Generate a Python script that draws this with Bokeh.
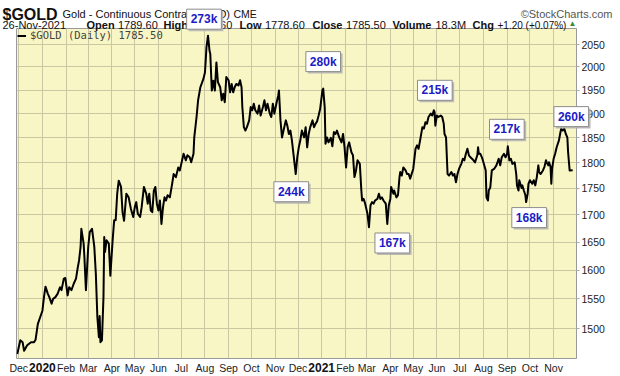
import pandas as pd
from bokeh.plotting import figure
from bokeh.models import (Range1d, FixedTicker, Legend, LegendItem,
                          PrintfTickFormatter, ColumnDataSource)
from bokeh.core.properties import value
from bokeh.embed import file_html
from bokeh.resources import INLINE

# ---------------- data ----------------
dates = [
    "2019-11-29", "2019-12-03", "2019-12-06", "2019-12-08", "2019-12-12", "2019-12-17", "2019-12-21",
    "2019-12-23", "2019-12-26", "2019-12-29", "2020-01-01", "2020-01-03", "2020-01-05", "2020-01-08",
    "2020-01-10", "2020-01-13", "2020-01-15", "2020-01-18", "2020-01-21", "2020-01-24", "2020-01-26",
    "2020-01-29", "2020-01-31", "2020-02-03", "2020-02-05", "2020-02-08", "2020-02-11", "2020-02-14",
    "2020-02-16", "2020-02-18", "2020-02-20", "2020-02-21", "2020-02-24", "2020-02-25", "2020-02-27",
    "2020-03-01", "2020-03-03", "2020-03-06", "2020-03-09", "2020-03-11", "2020-03-13", "2020-03-15",
    "2020-03-16", "2020-03-17", "2020-03-19", "2020-03-21", "2020-03-22", "2020-03-23", "2020-03-25",
    "2020-03-28", "2020-03-30", "2020-04-02", "2020-04-04", "2020-04-06", "2020-04-08", "2020-04-10",
    "2020-04-13", "2020-04-15", "2020-04-17", "2020-04-20", "2020-04-23", "2020-04-26", "2020-04-29",
    "2020-05-01", "2020-05-03", "2020-05-05", "2020-05-08", "2020-05-10", "2020-05-13", "2020-05-16",
    "2020-05-18", "2020-05-20", "2020-05-22", "2020-05-24", "2020-05-26", "2020-05-28", "2020-05-30",
    "2020-06-01", "2020-06-03", "2020-06-05", "2020-06-07", "2020-06-09", "2020-06-11", "2020-06-13",
    "2020-06-16", "2020-06-19", "2020-06-21", "2020-06-24", "2020-06-27", "2020-06-29", "2020-07-01",
    "2020-07-04", "2020-07-07", "2020-07-09", "2020-07-12", "2020-07-14", "2020-07-17", "2020-07-18",
    "2020-07-21", "2020-07-23", "2020-07-26", "2020-07-30", "2020-08-01", "2020-08-02", "2020-08-03",
    "2020-08-05", "2020-08-07", "2020-08-08", "2020-08-10", "2020-08-12", "2020-08-14", "2020-08-16",
    "2020-08-18", "2020-08-21", "2020-08-23", "2020-08-25", "2020-08-27", "2020-08-29", "2020-09-01",
    "2020-09-03", "2020-09-05", "2020-09-07", "2020-09-09", "2020-09-11", "2020-09-14", "2020-09-16",
    "2020-09-18", "2020-09-19", "2020-09-21", "2020-09-23", "2020-09-25", "2020-09-28", "2020-09-30",
    "2020-10-02", "2020-10-04", "2020-10-06", "2020-10-09", "2020-10-11", "2020-10-13", "2020-10-16",
    "2020-10-18", "2020-10-20", "2020-10-22", "2020-10-25", "2020-10-27", "2020-10-29", "2020-10-31",
    "2020-11-03", "2020-11-05", "2020-11-06", "2020-11-08", "2020-11-10", "2020-11-12", "2020-11-15",
    "2020-11-17", "2020-11-19", "2020-11-21", "2020-11-23", "2020-11-25", "2020-11-28", "2020-11-30",
    "2020-12-02", "2020-12-04", "2020-12-06", "2020-12-09", "2020-12-11", "2020-12-13", "2020-12-15",
    "2020-12-17", "2020-12-20", "2020-12-22", "2020-12-24", "2020-12-26", "2020-12-28", "2020-12-30",
    "2021-01-02", "2021-01-03", "2021-01-05", "2021-01-06", "2021-01-08", "2021-01-10", "2021-01-13",
    "2021-01-15", "2021-01-17", "2021-01-19", "2021-01-21", "2021-01-24", "2021-01-27", "2021-01-29",
    "2021-01-31", "2021-02-02", "2021-02-04", "2021-02-06", "2021-02-09", "2021-02-11", "2021-02-13",
    "2021-02-15", "2021-02-17", "2021-02-20", "2021-02-22", "2021-02-23", "2021-02-25", "2021-02-27",
    "2021-03-02", "2021-03-04", "2021-03-06", "2021-03-08", "2021-03-10", "2021-03-12", "2021-03-15",
    "2021-03-17", "2021-03-19", "2021-03-21", "2021-03-23", "2021-03-26", "2021-03-28", "2021-03-30",
    "2021-04-01", "2021-04-02", "2021-04-05", "2021-04-06", "2021-04-09", "2021-04-11", "2021-04-13",
    "2021-04-14", "2021-04-16", "2021-04-18", "2021-04-21", "2021-04-23", "2021-04-25", "2021-04-27",
    "2021-05-01", "2021-05-04", "2021-05-06", "2021-05-08", "2021-05-10", "2021-05-13", "2021-05-15",
    "2021-05-17", "2021-05-19", "2021-05-21", "2021-05-24", "2021-05-26", "2021-05-28", "2021-05-29",
    "2021-05-30", "2021-06-01", "2021-06-03", "2021-06-06", "2021-06-08", "2021-06-10", "2021-06-11",
    "2021-06-13", "2021-06-15", "2021-06-17", "2021-06-20", "2021-06-22", "2021-06-24", "2021-06-26",
    "2021-06-28", "2021-06-30", "2021-07-03", "2021-07-05", "2021-07-07", "2021-07-09", "2021-07-11",
    "2021-07-13", "2021-07-15", "2021-07-17", "2021-07-19", "2021-07-21", "2021-07-24", "2021-07-25",
    "2021-07-26", "2021-07-28", "2021-07-30", "2021-08-01", "2021-08-04", "2021-08-05", "2021-08-07",
    "2021-08-08", "2021-08-10", "2021-08-12", "2021-08-15", "2021-08-18", "2021-08-21", "2021-08-23",
    "2021-08-25", "2021-08-28", "2021-08-30", "2021-09-01", "2021-09-02", "2021-09-04", "2021-09-06",
    "2021-09-08", "2021-09-11", "2021-09-13", "2021-09-14", "2021-09-16", "2021-09-17", "2021-09-20",
    "2021-09-21", "2021-09-23", "2021-09-25", "2021-09-26", "2021-09-28", "2021-09-29", "2021-10-01",
    "2021-10-04", "2021-10-06", "2021-10-08", "2021-10-10", "2021-10-12", "2021-10-13", "2021-10-15",
    "2021-10-18", "2021-10-20", "2021-10-22", "2021-10-23", "2021-10-25", "2021-10-26", "2021-10-28",
    "2021-10-29", "2021-10-30", "2021-11-01", "2021-11-03", "2021-11-05", "2021-11-08", "2021-11-10",
    "2021-11-11", "2021-11-13", "2021-11-15", "2021-11-17", "2021-11-19", "2021-11-20", "2021-11-22",
    "2021-11-26",
]
closes = [
    1459, 1481, 1478, 1464, 1473, 1478, 1478,
    1482, 1508, 1519, 1530, 1553, 1571, 1559,
    1553, 1542, 1550, 1553, 1559, 1570, 1565,
    1585, 1586, 1556, 1570, 1565, 1576, 1585,
    1602, 1617, 1641, 1674, 1647, 1623, 1565,
    1641, 1668, 1674, 1641, 1593, 1519, 1486,
    1521, 1478, 1481, 1553, 1659, 1632, 1653,
    1647, 1590, 1653, 1690, 1690, 1740, 1765,
    1753, 1705, 1689, 1740, 1733, 1711, 1696,
    1714, 1724, 1702, 1696, 1714, 1753, 1740,
    1721, 1740, 1708, 1705, 1746, 1753, 1721,
    1708, 1727, 1683, 1714, 1733, 1727, 1737,
    1733, 1759, 1778, 1772, 1791, 1785, 1798,
    1818, 1805, 1815, 1811, 1801, 1818, 1851,
    1893, 1928, 1956, 1974, 1988, 2014, 2044,
    2070, 2036, 2029, 1949, 1970, 1949, 2010,
    1967, 1956, 1928, 1942, 1924, 1978, 1971,
    1945, 1963, 1945, 1956, 1963, 1960, 1971,
    1956, 1914, 1872, 1865, 1872, 1886, 1914,
    1907, 1921, 1907, 1900, 1917, 1896, 1914,
    1928, 1907, 1921, 1900, 1893, 1921, 1900,
    1924, 1938, 1949, 1886, 1851, 1865, 1886,
    1875, 1858, 1865, 1845, 1818, 1778, 1811,
    1831, 1845, 1865, 1851, 1872, 1831, 1858,
    1872, 1886, 1872, 1879, 1884, 1896, 1910,
    1950, 1953, 1913, 1838, 1851, 1841, 1850,
    1833, 1862, 1858, 1865, 1851, 1841, 1858,
    1831, 1791, 1831, 1841, 1821, 1815, 1772,
    1785, 1805, 1798, 1746, 1727, 1730, 1721,
    1702, 1677, 1718, 1724, 1721, 1727, 1730,
    1740, 1730, 1733, 1727, 1721, 1683, 1718,
    1730, 1753, 1740, 1746, 1733, 1737, 1772,
    1782, 1775, 1791, 1785, 1778, 1778, 1769,
    1788, 1828, 1835, 1828, 1845, 1872, 1869,
    1882, 1879, 1893, 1900, 1896, 1907, 1903,
    1875, 1896, 1893, 1896, 1893, 1879, 1858,
    1851, 1778, 1775, 1782, 1775, 1778, 1762,
    1778, 1788, 1798, 1808, 1805, 1818, 1828,
    1815, 1811, 1808, 1805, 1801, 1815, 1831,
    1818, 1818, 1811, 1801, 1785, 1733, 1727,
    1746, 1752, 1785, 1788, 1795, 1808, 1795,
    1811, 1818, 1811, 1818, 1833, 1805, 1808,
    1798, 1801, 1778, 1756, 1746, 1766, 1751,
    1756, 1746, 1737, 1724, 1740, 1759, 1766,
    1759, 1766, 1756, 1772, 1795, 1782, 1778,
    1785, 1792, 1805, 1801, 1795, 1801, 1792,
    1759, 1788, 1808, 1818, 1831, 1845, 1862,
    1869, 1865, 1869, 1858, 1851, 1821, 1785,
    1785.5,
]

price_ticks = [1500, 1550, 1600, 1650, 1700, 1750, 1800, 1850, 1900, 1950, 2000, 2050]
month_ticks = ["2019-12-01", "2020-01-01", "2020-02-01", "2020-03-01", "2020-04-01", "2020-05-01",
               "2020-06-01", "2020-07-01", "2020-08-01", "2020-09-01", "2020-10-01", "2020-11-01",
               "2020-12-01", "2021-01-01", "2021-02-01", "2021-03-01", "2021-04-01", "2021-05-01",
               "2021-06-01", "2021-07-01", "2021-08-01", "2021-09-01", "2021-10-01", "2021-11-01"]
month_labels = ["Dec", "2020", "Feb", "Mar", "Apr", "May", "Jun", "Jul", "Aug", "Sep", "Oct", "Nov",
                "Dec", "2021", "Feb", "Mar", "Apr", "May", "Jun", "Jul", "Aug", "Sep", "Oct", "Nov"]

# volume call-outs: text, date of the swing point they belong to
vol_labels = ["273k", "280k", "244k", "215k", "167k", "217k", "168k", "260k"]
vol_dates = ["2020-08-05", "2021-01-03", "2020-11-28", "2021-05-28", "2021-03-28",
             "2021-09-02", "2021-09-26", "2021-11-11"]
# pixel offsets of each call-out box from its swing point (layout only; + = right / up)
vol_dx = [-4, 0, -4.5, 1, 5, -1, 3, 10]
vol_dy = [16.5, 27, -17.7, 20, -19, 17, -15.5, 12]

header_vals = {"date": "26-Nov-2021", "open": "1789.60", "high": "1815.60", "low": "1778.60",
               "close": "1785.50", "volume": "18.3M", "chg": "+1.20 (+0.07%)"}


def ms(d):
    return pd.Timestamp(d).value // 10**6


# ---------------- figure ----------------
FL, FT = 16, 28          # frame left / top in canvas pixels
X0, X1 = ms("2019-11-28"), ms("2021-12-01")
Y0, Y1 = 1451.7, 2086.4

p = figure(width=620, height=376, output_backend="svg", toolbar_location=None,
           x_axis_type="datetime", y_axis_type="log", y_axis_location="right",
           x_range=Range1d(X0, X1), y_range=Range1d(Y0, Y1),
           min_border_left=FL, min_border_right=44, min_border_top=FT, min_border_bottom=18)

p.background_fill_color = "#f8f6c4"
p.border_fill_color = "white"
p.outline_line_color = "#9a9a9a"
p.outline_line_width = 1

xt = [ms(d) for d in month_ticks]
p.xaxis.ticker = FixedTicker(ticks=xt)
p.xaxis.major_label_overrides = {t: ("" if lab.isdigit() else lab) for t, lab in zip(xt, month_labels)}
p.xaxis.axis_line_color = None
p.xaxis.major_tick_out = 0
p.xaxis.major_tick_in = 0
p.xaxis.minor_tick_line_color = None
p.xaxis.major_label_standoff = 3
p.xaxis.major_label_text_font = "Liberation Sans"
p.xaxis.major_label_text_font_size = "10.5px"
p.xaxis.major_label_text_color = "#222222"

p.yaxis.ticker = FixedTicker(ticks=price_ticks)
p.yaxis.formatter = PrintfTickFormatter(format="%d")
p.yaxis.axis_line_color = None
p.yaxis.major_tick_out = 3
p.yaxis.major_tick_in = 0
p.yaxis.major_tick_line_color = "#aaaaaa"
p.yaxis.minor_tick_line_color = None
p.yaxis.major_label_standoff = 2
p.yaxis.major_label_text_font = "Liberation Sans"
p.yaxis.major_label_text_font_size = "10.5px"
p.yaxis.major_label_text_color = "#222222"

p.xgrid.ticker = FixedTicker(ticks=xt)
p.ygrid.ticker = FixedTicker(ticks=price_ticks)
p.xgrid.grid_line_color = "#c9c8a2"
p.ygrid.grid_line_color = "#c9c8a2"

src = ColumnDataSource(dict(x=pd.to_datetime(dates), y=closes))
r = p.line("x", "y", source=src, line_color="black", line_width=2, line_join="round")

legend = Legend(items=[LegendItem(label="$GOLD (Daily) 1785.50", renderers=[r])],
                location="top_left", margin=0, padding=1, spacing=0,
                glyph_width=9, glyph_height=11, label_standoff=4, label_height=11,
                label_text_font="DejaVu Sans Mono", label_text_font_size="10.5px",
                background_fill_alpha=0, border_line_alpha=0)
p.add_layout(legend)

# ---------------- texts outside the frame (overlay-level text glyphs) ----------------
hdr = dict(x=[], y=[], text=[], xo=[], yo=[], size=[], style=[], color=[], font=[], align=[])


def hlabel(text, cx, cy, size, bold=False, color="#111111", align="left", font="Liberation Sans"):
    # anchored at the frame's top-left corner, offset in canvas pixels
    hdr["x"].append(X0)
    hdr["y"].append(Y1)
    hdr["xo"].append(cx - FL)
    hdr["yo"].append(cy - FT)
    hdr["text"].append(text)
    hdr["size"].append(f"{size}px")
    hdr["style"].append("bold" if bold else "normal")
    hdr["color"].append(color)
    hdr["font"].append(font)
    hdr["align"].append(align)


L1, L2 = 13, 24.5   # baselines of the two header lines
hlabel("$GOLD", 2, L1 + 0.5, 16, bold=True)
hlabel("Gold - Continuous Contract (EOD)", 62, L1, 11)
hlabel("CME", 233, L1, 10.5)
hlabel("\u00a9StockCharts.com", 612, L1, 11, color="#555555", align="right")

hlabel(header_vals["date"], 2, L2, 11)
hlabel("Open", 86, L2, 11, bold=True)
hlabel(header_vals["open"], 117.5, L2, 11)
hlabel("High", 163, L2, 11, bold=True)
hlabel(header_vals["high"], 192, L2, 11)
hlabel("Low", 239, L2, 11, bold=True)
hlabel(header_vals["low"], 264.5, L2, 11)
hlabel("Close", 312, L2, 11, bold=True)
hlabel(header_vals["close"], 345.5, L2, 11)
hlabel("Volume", 392, L2, 11, bold=True)
hlabel(header_vals["volume"], 435, L2, 11)
hlabel("Chg", 472, L2, 11, bold=True)
hlabel(header_vals["chg"], 497, L2, 10)
hlabel("\u25b2", 568, L2 - 1.5, 8, color="#3c8a3c")

p.text(x="x", y="y", text="text", x_offset="xo", y_offset="yo", text_font="font",
       text_font_size="size", text_font_style="style", text_color="color", text_align="align",
       text_baseline="alphabetic", source=ColumnDataSource(hdr), level="overlay")

# bold year labels under the axis
yr = [(ms(d), lab) for d, lab in zip(month_ticks, month_labels) if lab.isdigit()]
p.text(x=[a for a, _ in yr], y=[Y0] * len(yr), text=[b for _, b in yr], y_offset=9,
       text_align="center", text_baseline="middle", text_font=value("Liberation Sans"),
       text_font_style="bold", text_font_size="12px", text_color="#111111", level="overlay")

# volume call-out boxes (shadow + box)
lookup = dict(zip(dates, closes))
vsrc = ColumnDataSource(dict(x=[ms(d) for d in vol_dates], y=[lookup[d] for d in vol_dates],
                             text=vol_labels, xo=vol_dx, yo=[-v for v in vol_dy],
                             sxo=[v + 2 for v in vol_dx], syo=[-v + 2 for v in vol_dy]))
box_font = dict(text_align="center", text_baseline="middle", text_font=value("Liberation Sans"),
                text_font_style="bold", text_font_size="12px", padding=(4, 3))
p.text(x="x", y="y", text="text", x_offset="sxo", y_offset="syo", source=vsrc, text_alpha=0,
       background_fill_color="#b4b4b4", background_fill_alpha=0.9, level="overlay", **box_font)
p.text(x="x", y="y", text="text", x_offset="xo", y_offset="yo", source=vsrc, text_color="#1c1cc4",
       background_fill_color="white", border_line_color="#8c8c8c", border_line_width=1,
       level="overlay", **box_font)

open("out.html", "w").write(file_html(p, INLINE))
